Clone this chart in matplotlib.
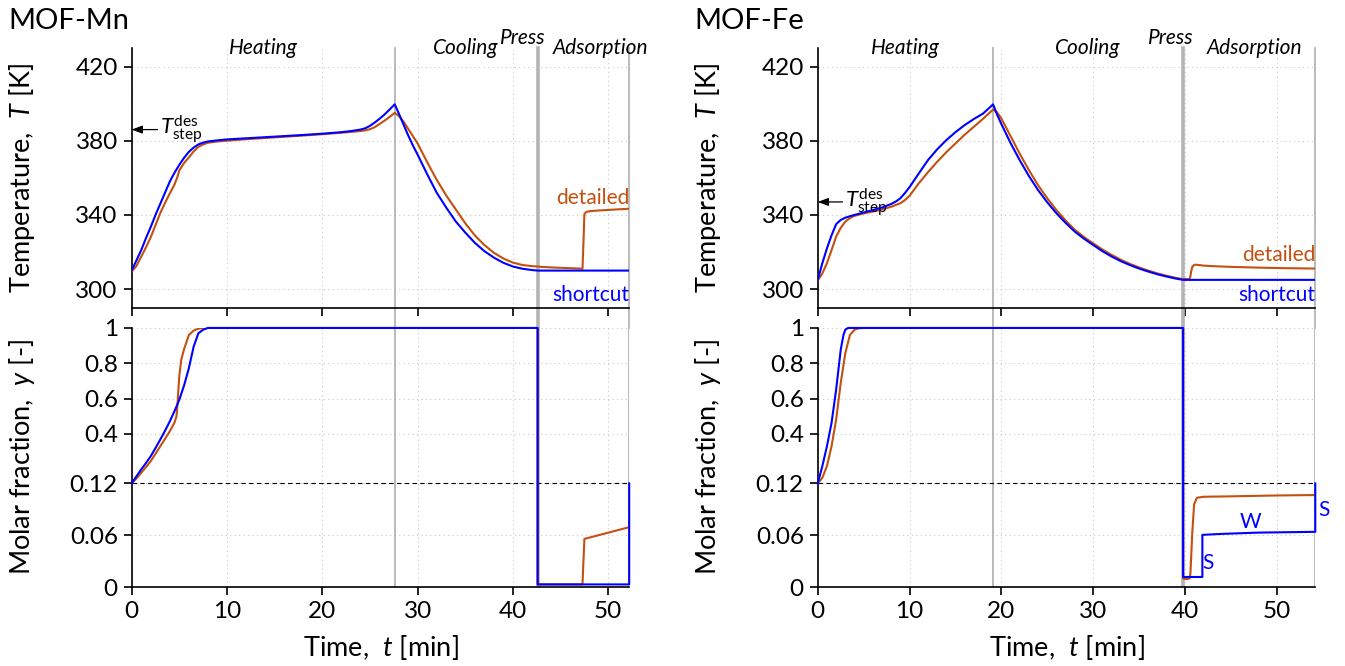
import numpy as np
import matplotlib
matplotlib.use("Agg")
import matplotlib.pyplot as plt

# --- Daten: MOF-Mn ---
mn_phase_ends = [27.6, 42.6, 52.2]   # Heating / Cooling(+Press) / Adsorption

mn_T_short_t = [0, 0.5, 1, 1.5, 2, 2.5, 3, 3.5, 4, 4.5, 5, 5.5, 6, 6.5, 7, 7.5, 8, 9, 10, 12, 15, 18, 20, 22,
                23, 24, 24.5, 25, 25.5, 26, 26.5, 27, 27.6,
                28, 28.5, 29, 29.5, 30, 31, 32, 33, 34, 35, 36, 37, 38, 39, 40, 41, 42, 42.6, 52.2]
mn_T_short = [310, 315.5, 321, 327.5, 333.5, 340, 346, 352, 358, 362.8, 367, 370.8, 374, 376.3, 378, 379, 379.6,
              380.2, 380.7, 381.3, 382.2, 383.1, 383.8, 384.6, 385.2, 386.0, 386.7, 388, 389.8, 391.8, 394,
              396.5, 399.6,
              395, 389, 383, 377.5, 372.5, 362, 352, 344, 336.5, 330.5, 325, 320.5, 317, 314.2, 312.2, 311,
              310.3, 310, 310]

mn_T_det_t = [0, 0.5, 1, 1.5, 2, 2.5, 3, 3.5, 4, 4.5, 4.8, 5, 5.5, 6, 6.5, 7, 7.5, 8, 9, 10, 12, 15, 18, 20,
              22, 24, 24.5, 25, 25.5, 26, 26.5, 27, 27.6,
              28, 28.5, 29, 29.5, 30, 31, 32, 33, 34, 35, 36, 37, 38, 39, 40, 41, 42, 42.6,
              43, 44, 45, 46, 47, 47.3, 47.4, 47.5, 47.7, 48, 49, 50, 51, 52.2]
mn_T_det = [309.5, 312.5, 317.5, 322.5, 328, 334.5, 341, 346.5, 351.6, 356.5, 360.5, 364, 368, 371, 374.2,
            376.7, 378, 378.9, 379.6, 380, 380.8, 381.8, 382.8, 383.5, 384.3, 385.2, 385.6, 386.2, 387.3,
            389, 390.7, 392.6, 395,
            393.5, 390.5, 386.5, 382.5, 378.5, 368.5, 359, 350.5, 343, 335.5, 329, 323.8, 319.6, 316.5,
            314.3, 313, 312.4, 312.2,
            312, 311.7, 311.5, 311.3, 311.1, 311.0, 325, 340.5, 341.6, 342, 342.4, 342.7, 343, 343.3]

mn_y_short_t = [0, 0.5, 1, 1.5, 2, 2.5, 3, 3.5, 4, 4.5, 5, 5.5, 6, 6.5, 7, 7.5, 8, 42.6, 42.6, 52.2, 52.2]
mn_y_short = [0.12, 0.16, 0.199, 0.235, 0.274, 0.32, 0.368, 0.418, 0.471, 0.53, 0.594, 0.675, 0.772, 0.894,
              0.97, 0.99, 1.0, 1.0, 0.003, 0.003, 0.12]

mn_y_det_t = [0, 0.5, 1, 1.5, 2, 2.5, 3, 3.5, 4, 4.5, 4.7, 4.8, 4.9, 5, 5.2, 5.5, 6, 6.5, 7, 7.5, 42.6, 42.6,
              47.3, 47.4, 47.5, 52.2]
mn_y_det = [0.12, 0.148, 0.18, 0.212, 0.246, 0.288, 0.33, 0.372, 0.415, 0.465, 0.50, 0.56, 0.65, 0.73, 0.82,
            0.88, 0.96, 0.985, 0.996, 1.0, 1.0, 0.003, 0.003, 0.03, 0.0557, 0.0693]

# --- Daten: MOF-Fe ---
fe_phase_ends = [19.1, 39.8, 54.2]

fe_T_short_t = [0, 0.5, 1, 1.5, 2, 2.5, 3, 3.5, 4, 5, 6, 7, 8, 8.5, 9, 9.5, 10, 11, 12, 13, 14, 15, 16, 17,
                18, 19.1,
                19.5, 20, 21, 22, 23, 24, 25, 26, 27, 28, 29, 30, 31, 32, 33, 34, 35, 36, 37, 38, 39, 39.8,
                54.2]
fe_T_short = [305, 314, 322, 329, 335, 337.3, 338.5, 339.3, 340, 341.3, 342.6, 344, 345.9, 347.2, 349, 351.8,
              355, 362.3, 369.5, 375.3, 380.3, 384.6, 388.4, 391.7, 394.6, 399.6,
              394.5, 389, 378.8, 369.5, 361, 353.4, 346.8, 340.9, 335.7, 331, 327.2, 323.8, 320.5, 317.6,
              315.1, 313, 311.1, 309.5, 308, 306.8, 305.7, 305, 305]

fe_T_det_t = [0, 0.5, 1, 1.5, 2, 2.5, 3, 3.5, 4, 5, 6, 7, 8, 9, 9.5, 10, 11, 12, 13, 14, 15, 16, 17, 18, 19.1,
              19.5, 20, 21, 22, 23, 24, 25, 26, 27, 28, 29, 30, 31, 32, 33, 34, 35, 36, 37, 38, 39, 39.8,
              40, 40.5, 40.6, 40.7, 40.8, 41, 41.2, 41.5, 42, 43, 45, 48, 51, 54.2]
fe_T_det = [304.7, 308.5, 314, 321, 328.3, 333, 336.4, 338.3, 339.5, 340.8, 341.8, 343, 344.4, 346.3, 348,
            350.3, 357, 363, 368.6, 373.8, 378.5, 383.2, 387.5, 391.8, 396.8,
            395.5, 392, 382.5, 373, 364.2, 356, 349, 342.6, 337, 332, 328.1, 324.7, 321.4, 318.5, 315.9,
            313.6, 311.7, 310, 308.5, 307.2, 306.1, 305.4,
            305.5, 305.3, 307, 310, 312, 313, 313.2, 313, 312.7, 312.4, 312, 311.6, 311.3, 311.1]

fe_y_short_t = [0, 0.5, 1, 1.5, 2, 2.5, 2.8, 3, 3.3, 39.8, 39.8, 41.9, 41.9, 44, 48, 54.2, 54.2]
fe_y_short = [0.12, 0.218, 0.33, 0.462, 0.65, 0.876, 0.96, 0.99, 1.0, 1.0, 0.0116, 0.0116, 0.0604, 0.0615,
              0.063, 0.0639, 0.12]

fe_y_det_t = [0, 0.5, 1, 1.5, 2, 2.5, 3, 3.5, 4, 4.5, 5, 39.8, 39.8, 40.2, 40.5, 40.6, 40.8, 41.0, 41.3, 42,
              45, 50, 54.2]
fe_y_det = [0.12, 0.152, 0.218, 0.33, 0.48, 0.688, 0.857, 0.96, 0.99, 0.998, 1.0, 1.0, 0.01, 0.009, 0.01,
            0.016, 0.0627, 0.0956, 0.1033, 0.1045, 0.105, 0.106, 0.1065]

y_feed = 0.12
T_ticks = [300, 340, 380, 420]
y_ticks = [0, 0.06, 0.12, 0.4, 0.6, 0.8, 1]
y_ticklabels = ["0", "0.06", "0.12", "0.4", "0.6", "0.8", "1"]
t_ticks = [0, 10, 20, 30, 40, 50]

# --- Stil ---
plt.rcParams["font.family"] = ["Lato", "DejaVu Sans"]
plt.rcParams["mathtext.fontset"] = "custom"
plt.rcParams["mathtext.rm"] = "Lato"
plt.rcParams["mathtext.it"] = "Lato:italic"
plt.rcParams["font.size"] = 15

c_det = "#c4500f"
c_short = "#0000ff"
c_phase = "#b4b4b4"


# Skala fuer y: 0..0.12 nimmt 40 % der Hoehe ein, 0.12..1 den Rest
def fwd(y):
    y = np.asarray(y, dtype=float)
    return np.where(y <= 0.12, y / 0.12 * 0.4, 0.4 + (y - 0.12) / 0.88 * 0.6)


def inv(u):
    u = np.asarray(u, dtype=float)
    return np.where(u <= 0.4, u / 0.4 * 0.12, 0.12 + (u - 0.4) / 0.6 * 0.88)


fig = plt.figure(figsize=(13.45, 6.66), dpi=100)

columns = [
    dict(name="MOF-Mn", x0=0.0979, ends=mn_phase_ends,
         Ts_t=mn_T_short_t, Ts=mn_T_short, Td_t=mn_T_det_t, Td=mn_T_det,
         ys_t=mn_y_short_t, ys=mn_y_short, yd_t=mn_y_det_t, yd=mn_y_det,
         T_step=386, press_x=41.0, ads_x=49.2, det_T=344),
    dict(name="MOF-Fe", x0=0.608, ends=fe_phase_ends,
         Ts_t=fe_T_short_t, Ts=fe_T_short, Td_t=fe_T_det_t, Td=fe_T_det,
         ys_t=fe_y_short_t, ys=fe_y_short, yd_t=fe_y_det_t, yd=fe_y_det,
         T_step=347, press_x=38.5, ads_x=47.6, det_T=313),
]

fs_tick = 17.5
fs_lab = 19.5
fs_phase = 15

for col in columns:
    x0 = col["x0"]
    w = 0.3699
    tend = col["ends"][-1]
    b1, b2 = col["ends"][0], col["ends"][1]

    axT = fig.add_axes([x0, 0.538, w, 0.390])
    axY = fig.add_axes([x0, 0.1186, w, 0.389])

    for ax in (axT, axY):
        ax.set_xlim(0, tend)
        ax.set_xticks(t_ticks)
        for s in ("top", "right"):
            ax.spines[s].set_visible(False)
        ax.spines["left"].set_linewidth(1.2)
        ax.spines["bottom"].set_linewidth(1.2)
        ax.tick_params(direction="out", length=6, width=1.2, labelsize=fs_tick, pad=4)
        ax.grid(True, linestyle=(0, (1, 3)), color="#c8c8c8", linewidth=0.8)
        ax.set_axisbelow(True)

    # Phasengrenzen
    for b, lw in zip(col["ends"], (1.3, 2.6, 1.3)):
        axT.axvline(b, ymin=-0.08, ymax=1, color=c_phase, lw=lw, clip_on=False, zorder=1)
        axY.axvline(b, color=c_phase, lw=lw, zorder=1)

    # Temperatur
    axT.plot(col["Td_t"], col["Td"], color=c_det, lw=1.5, zorder=3)
    axT.plot(col["Ts_t"], col["Ts"], color=c_short, lw=1.5, zorder=4)
    axT.set_ylim(290, 430)
    axT.set_yticks(T_ticks)
    axT.tick_params(axis="x", labelbottom=False)
    axT.set_ylabel("Temperature,  $T$ [K]", fontsize=fs_lab)
    axT.yaxis.set_label_coords(-0.19, 0.5)

    axT.text(tend, col["det_T"], "detailed", color=c_det, ha="right", va="bottom", fontsize=15)
    axT.text(tend, 291.5, "shortcut", color=c_short, ha="right", va="bottom", fontsize=15)

    axT.annotate(r"$T_{\mathrm{step}}^{\mathrm{des}}$", xy=(0, col["T_step"]),
                 xytext=(3.0, col["T_step"]), ha="left", va="center", fontsize=16,
                 arrowprops=dict(arrowstyle="-|>,head_length=0.4,head_width=0.15", color="black", lw=0.9,
                                 shrinkA=0, shrinkB=0))

    # Phasen
    axT.text(b1 / 2, 426.5, "Heating", style="italic", ha="center", va="baseline", fontsize=fs_phase)
    axT.text((b1 + b2) / 2, 426.5, "Cooling", style="italic", ha="center", va="baseline", fontsize=fs_phase)
    axT.text(col["press_x"], 432, "Press", style="italic", ha="center", va="baseline", fontsize=fs_phase)
    axT.text(col["ads_x"], 426.5, "Adsorption", style="italic", ha="center", va="baseline", fontsize=fs_phase)

    # Molenbruch
    axY.set_yscale("function", functions=(fwd, inv))
    axY.axhline(y_feed, color="black", lw=0.8, ls=(0, (4, 3)), zorder=2)
    axY.plot(col["yd_t"], col["yd"], color=c_det, lw=1.5, zorder=3)
    axY.plot(col["ys_t"], col["ys"], color=c_short, lw=1.5, zorder=4, clip_on=False)
    axY.set_ylim(0, 1)
    axY.set_yticks(y_ticks)
    axY.set_yticklabels(y_ticklabels)
    axY.minorticks_off()
    axY.set_ylabel("Molar fraction,  $y$ [-]", fontsize=fs_lab)
    axY.yaxis.set_label_coords(-0.19, 0.5)
    axY.set_xlabel("Time,  $t$ [min]", fontsize=fs_lab, labelpad=8)

    fig.text(x0 - 0.092, 0.968, col["name"], fontsize=21, ha="left", va="center")

# S / W Markierungen (nur MOF-Fe)
axY_fe = fig.axes[-1]
axY_fe.text(42.5, 0.028, "S", color=c_short, ha="center", va="center", fontsize=15)
axY_fe.text(47.1, 0.075, "W", color=c_short, ha="center", va="center", fontsize=15)
axY_fe.text(55.1, 0.089, "S", color=c_short, ha="center", va="center", fontsize=15, clip_on=False)

fig.savefig("out.png", dpi=100)
